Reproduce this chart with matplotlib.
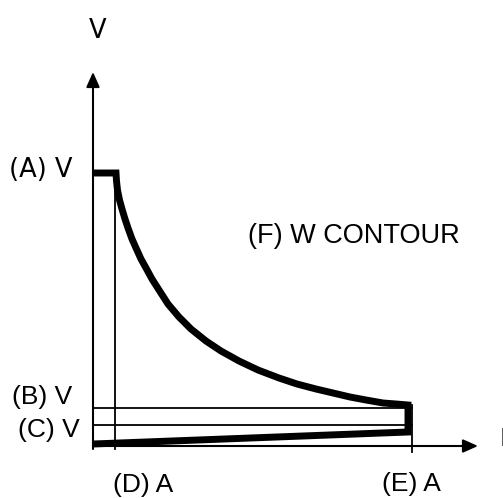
import matplotlib.pyplot as plt

# points of the cycle (origin where the two axes cross)
top_x = [0, 23]
top_y = [273, 273]
curve_x = [23, 23.5, 24.5, 26.5, 29, 32, 35, 39, 43, 48, 53, 59, 66, 75, 86, 98, 113, 128, 146, 165, 186, 204, 223, 240, 257, 273, 290, 303, 315]
curve_y = [273, 265, 256, 246, 237, 227, 218, 207, 198, 187, 178, 167, 156, 142, 129, 117, 105, 95, 85, 76, 68, 62, 57, 53, 49, 46, 43, 42, 41]
right_x = [315, 315]
right_y = [41, 14]
bottom_x = [315, 0]
bottom_y = [14, 2]

# guide lines
d_pos = 22
e_pos = 319
b_level = 38
c_level = 21

fig = plt.figure(figsize=(5.03, 4.98), dpi=100)
ax = fig.add_axes([0, 0, 1, 1])
ax.set_xlim(-93, 410)
ax.set_ylim(-52, 446)
ax.axis('off')

#axes with arrows
ax.annotate('', xy=(0, 374), xytext=(0, -3),
            arrowprops=dict(arrowstyle='-|>,head_length=0.9,head_width=0.4', lw=1.5, color='black', shrinkA=0, shrinkB=0))
ax.annotate('', xy=(385, 0), xytext=(0, 0),
            arrowprops=dict(arrowstyle='-|>,head_length=0.9,head_width=0.4', lw=1.5, color='black', shrinkA=0, shrinkB=0))

# thin guide lines
ax.plot([d_pos, d_pos], [-3, 273], color='black', lw=1.3)
ax.plot([e_pos, e_pos], [-6, 41], color='black', lw=1.3)
ax.plot([0, e_pos], [b_level, b_level], color='black', lw=1.3)
ax.plot([0, e_pos], [c_level, c_level], color='black', lw=1.3)

# thick contour
px = top_x + curve_x[1:] + right_x[1:] + bottom_x[1:]
py = top_y + curve_y[1:] + right_y[1:] + bottom_y[1:]
ax.plot(px, py, color='black', lw=5, solid_joinstyle='miter', solid_capstyle='butt')

# labels
ax.text(5, 408, 'V', fontsize=18.5, family='DejaVu Sans', ha='center', va='baseline')
ax.text(-84, 269, '(A) V', fontsize=18.5, family='DejaVu Sans', ha='left', va='baseline')
ax.text(261, 203, '(F) W CONTOUR', fontsize=19.5, family='Liberation Sans', ha='center', va='baseline')
ax.text(-21, 42, '(B) V', fontsize=19, family='Liberation Sans', ha='right', va='baseline')
ax.text(-13, 9, '(C) V', fontsize=19, family='Liberation Sans', ha='right', va='baseline')
ax.text(50.5, -46, '(D) A', fontsize=19, family='Liberation Sans', ha='center', va='baseline')
ax.text(318.5, -45, '(E) A', fontsize=19, family='Liberation Sans', ha='center', va='baseline')
ax.text(406.5, 0, 'I', fontsize=19, family='Liberation Sans', ha='left', va='baseline')

plt.savefig('out.png', dpi=100)
